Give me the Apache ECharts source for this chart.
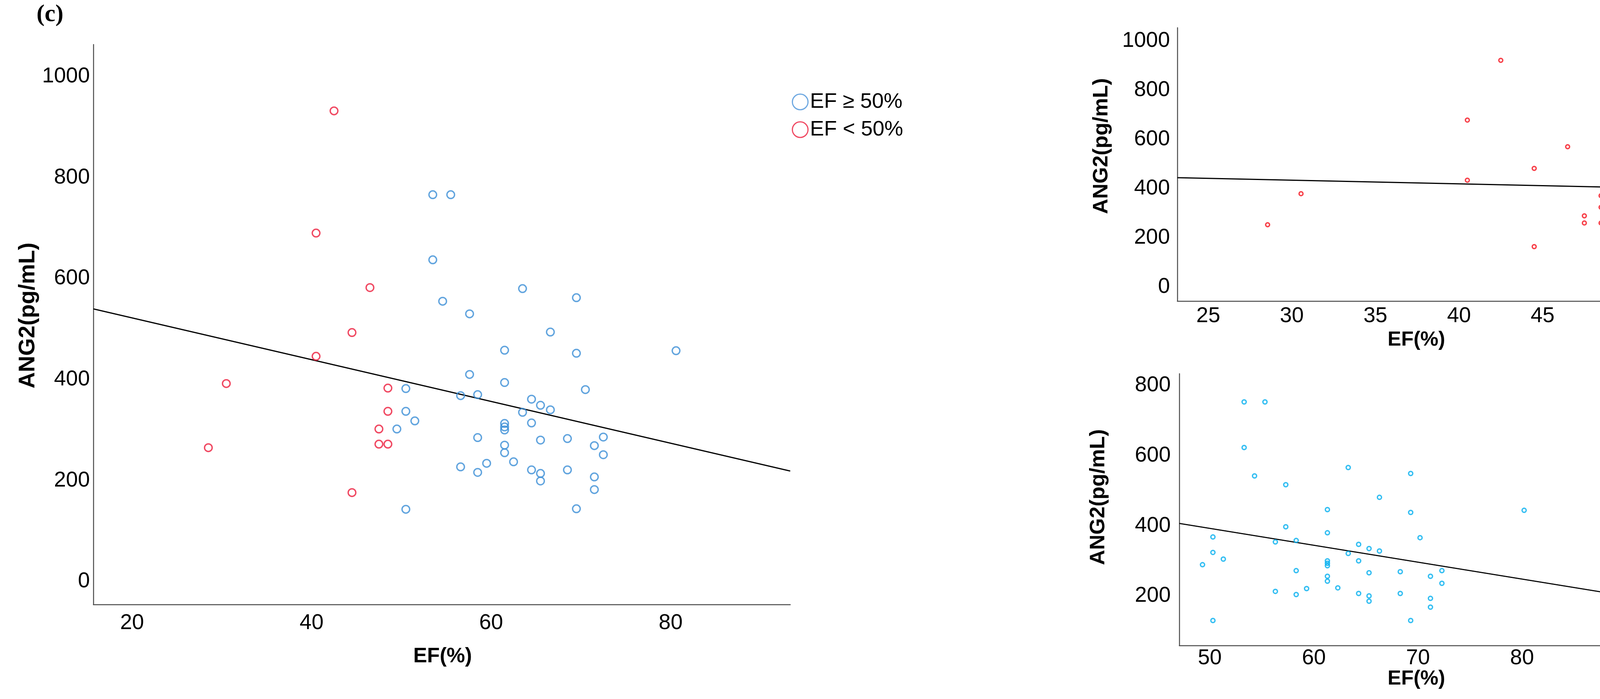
<!DOCTYPE html>
<html>
<head>
<meta charset="utf-8">
<script src="https://cdn.jsdelivr.net/npm/echarts@6/dist/echarts.min.js"></script>
<style>html,body{margin:0;padding:0;background:#fff;overflow:hidden}#c{width:4229px;height:1790px}</style>
</head>
<body>
<div id="c"></div>
<script>
// ---------- DATA (EF %, ANG2 pg/mL) ----------
// Main panel, EF >= 50%
const mainHigh = [[53.5,766],[55.5,766],[53.5,637],[63.5,580],[54.6,555],[69.5,562],[57.6,530],[66.6,494],[61.5,458],[69.5,452],[80.6,457],[57.6,410],[61.5,394],[70.5,380],[50.5,382],[56.6,368],[58.5,370],[64.5,361],[65.5,349],[66.6,340],[63.5,335],[50.5,337],[51.5,318],[64.5,314],[61.5,313],[61.5,306],[61.5,300],[49.5,302],[58.5,285],[61.5,270],[65.5,280],[68.5,283],[72.5,286],[71.5,269],[72.5,251],[61.5,255],[56.6,227],[59.5,234],[62.5,237],[58.5,216],[64.5,221],[65.5,214],[65.5,199],[68.5,221],[71.5,207],[71.5,182],[50.5,143],[69.5,144]];
// Main panel, EF < 50%
const mainLow = [[28.5,265],[30.5,392],[40.5,690],[40.5,446],[42.5,932],[44.5,493],[44.5,176],[46.5,582],[47.5,302],[47.5,272],[48.5,272],[48.5,337],[48.5,383]];
// Top-right panel (EF < 50%)
const lowPanel = [[28.55,253],[30.55,379],[40.5,678],[40.5,434],[42.5,921],[44.5,482],[44.5,164],[46.5,570],[47.5,289],[47.5,260],[48.5,371],[48.5,324],[48.5,260]];
// Bottom-right panel (EF >= 50%)
const highPanel = [[53.3,753],[55.3,753],[53.3,623],[54.3,542],[57.3,517],[63.3,566],[69.3,549],[66.3,481],[61.3,446],[69.3,438],[80.2,444],[57.3,397],[61.3,380],[70.2,366],[50.3,368],[56.3,354],[58.3,358],[64.3,347],[65.3,335],[66.3,328],[63.3,321],[50.3,324],[51.3,305],[64.3,300],[61.3,300],[61.3,293],[61.3,286],[49.3,289],[58.3,272],[65.3,266],[68.3,269],[72.3,272],[71.2,256],[61.3,256],[61.3,242],[72.3,236],[62.3,223],[59.3,221],[56.3,213],[58.3,204],[64.3,207],[65.3,200],[65.3,185],[68.3,207],[71.2,193],[71.2,168],[50.3,130],[69.3,130]];
// Linear fit lines [intercept, slope]
const mainFit = [604.7, -4.136];
const lowFit = [478.7, -1.492];
const highFit = [633.1, -4.813];
// Tick labels
const mainXTicks = [20,40,60,80];
const mainYTicks = [0,200,400,600,800,1000];
const lowXTicks = [25,30,35,40,45,50];
const lowYTicks = [0,200,400,600,800,1000];
const highXTicks = [50,60,70,80,90];
const highYTicks = [200,400,600,800];
// Names
const legendNames = ['EF \u2265 50%', 'EF < 50%'];

// ---------- LAYOUT ----------
const FONT = 'Liberation Sans';
const ranges = {
  main: {x:[15.69, 93.32], y:[-45.6, 1063.4]},
  low:  {x:[23.15, 50.89], y:[-57.1, 1053.3]},
  high: {x:[47.07, 91.43], y:[58.7, 833.4]}
};
const plain = v => String(v);
function axis(g, r, ticks, margin) {
  return {type:'value', gridIndex:g, min:r[0], max:r[1],
    axisLine:{show:true, onZero:false, lineStyle:{color:'#4a4a4a', width:2.5}},
    axisTick:{show:false}, splitLine:{show:false},
    axisLabel:{customValues:ticks, formatter:plain, margin:margin, fontSize:55, color:'#000', fontFamily:FONT}};
}
function fitLine(fit, r) {
  return [[r[0], fit[0] + fit[1]*r[0]], [r[1], fit[0] + fit[1]*r[1]]];
}
function ring(color, size, bw) {
  return {symbol:'circle', symbolSize:size, itemStyle:{color:'rgba(0,0,0,0)', borderColor:color, borderWidth:bw}};
}
const BLUE = '#3a8dd6', RED = '#ec1b3b', RED2 = '#f5101c', CYAN = '#00aeef';

const option = {
  backgroundColor:'#fff',
  animation:false,
  grid:[
    {left:239, top:114, width:1784, height:1434, containLabel:false, outerBoundsMode:'none'},
    {left:3014, top:71, width:1187, height:700, containLabel:false, outerBoundsMode:'none'},
    {left:3019, top:957, width:1182, height:696, containLabel:false, outerBoundsMode:'none'}
  ],
  xAxis:[ axis(0, ranges.main.x, mainXTicks, 20), axis(1, ranges.low.x, lowXTicks, 11), axis(2, ranges.high.x, highXTicks, 5) ],
  yAxis:[ axis(0, ranges.main.y, mainYTicks, 9), axis(1, ranges.low.y, lowYTicks, 19), axis(2, ranges.high.y, highYTicks, 22) ],
  legend:{
    orient:'vertical', left:2022, top:229, itemWidth:40, itemHeight:40, itemGap:17, selectedMode:false,
    textStyle:{fontSize:54, color:'#000', fontFamily:FONT},
    data:[
      {name:legendNames[0], icon:'circle', itemStyle:{color:'rgba(0,0,0,0)', borderColor:'#4a92da', borderWidth:3}},
      {name:legendNames[1], icon:'circle', itemStyle:{color:'rgba(0,0,0,0)', borderColor:'#ec1b3b', borderWidth:3}}
    ]
  },
  series:[
    {type:'line', xAxisIndex:0, yAxisIndex:0, data:fitLine(mainFit, ranges.main.x), symbol:'none', silent:true, lineStyle:{color:'#000', width:3.2}, z:1},
    Object.assign({type:'scatter', name:legendNames[0], xAxisIndex:0, yAxisIndex:0, data:mainHigh, z:3}, ring(BLUE, 19.5, 3.5)),
    Object.assign({type:'scatter', name:legendNames[1], xAxisIndex:0, yAxisIndex:0, data:mainLow, z:3}, ring(RED, 19.5, 3.5)),
    {type:'line', xAxisIndex:1, yAxisIndex:1, data:fitLine(lowFit, ranges.low.x), symbol:'none', silent:true, lineStyle:{color:'#000', width:3}, z:1},
    Object.assign({type:'scatter', name:'low', xAxisIndex:1, yAxisIndex:1, data:lowPanel, z:3}, ring(RED2, 10, 3.5)),
    {type:'line', xAxisIndex:2, yAxisIndex:2, data:fitLine(highFit, ranges.high.x), symbol:'none', silent:true, lineStyle:{color:'#000', width:2.8}, z:1},
    Object.assign({type:'scatter', name:'high', xAxisIndex:2, yAxisIndex:2, data:highPanel, z:3}, ring(CYAN, 10.5, 3.5))
  ],
  graphic:[
    {type:'text', x:128, y:38, style:{text:'(c)', fontSize:62, fontWeight:'bold', fontFamily:'Liberation Serif', fill:'#000', align:'center', verticalAlign:'middle'}},
    {type:'text', x:72, y:808, rotation:Math.PI/2, style:{text:'ANG2(pg/mL)', fontSize:58, fontWeight:'bold', fontFamily:FONT, fill:'#000', align:'center', verticalAlign:'middle'}},
    {type:'text', x:1133, y:1681, style:{text:'EF(%)', fontSize:53, fontWeight:'bold', fontFamily:FONT, fill:'#000', align:'center', verticalAlign:'middle'}},
    {type:'text', x:2820, y:374, rotation:Math.PI/2, style:{text:'ANG2(pg/mL)', fontSize:54, fontWeight:'bold', fontFamily:FONT, fill:'#000', align:'center', verticalAlign:'middle'}},
    {type:'text', x:3626, y:871, style:{text:'EF(%)', fontSize:52, fontWeight:'bold', fontFamily:FONT, fill:'#000', align:'center', verticalAlign:'middle'}},
    {type:'text', x:2812, y:1273, rotation:Math.PI/2, style:{text:'ANG2(pg/mL)', fontSize:54, fontWeight:'bold', fontFamily:FONT, fill:'#000', align:'center', verticalAlign:'middle'}},
    {type:'text', x:3626, y:1739, style:{text:'EF(%)', fontSize:52, fontWeight:'bold', fontFamily:FONT, fill:'#000', align:'center', verticalAlign:'middle'}}
  ]
};
const chart = echarts.init(document.getElementById('c'), null, {renderer:'canvas'});
chart.setOption(option);
</script>
</body>
</html>
